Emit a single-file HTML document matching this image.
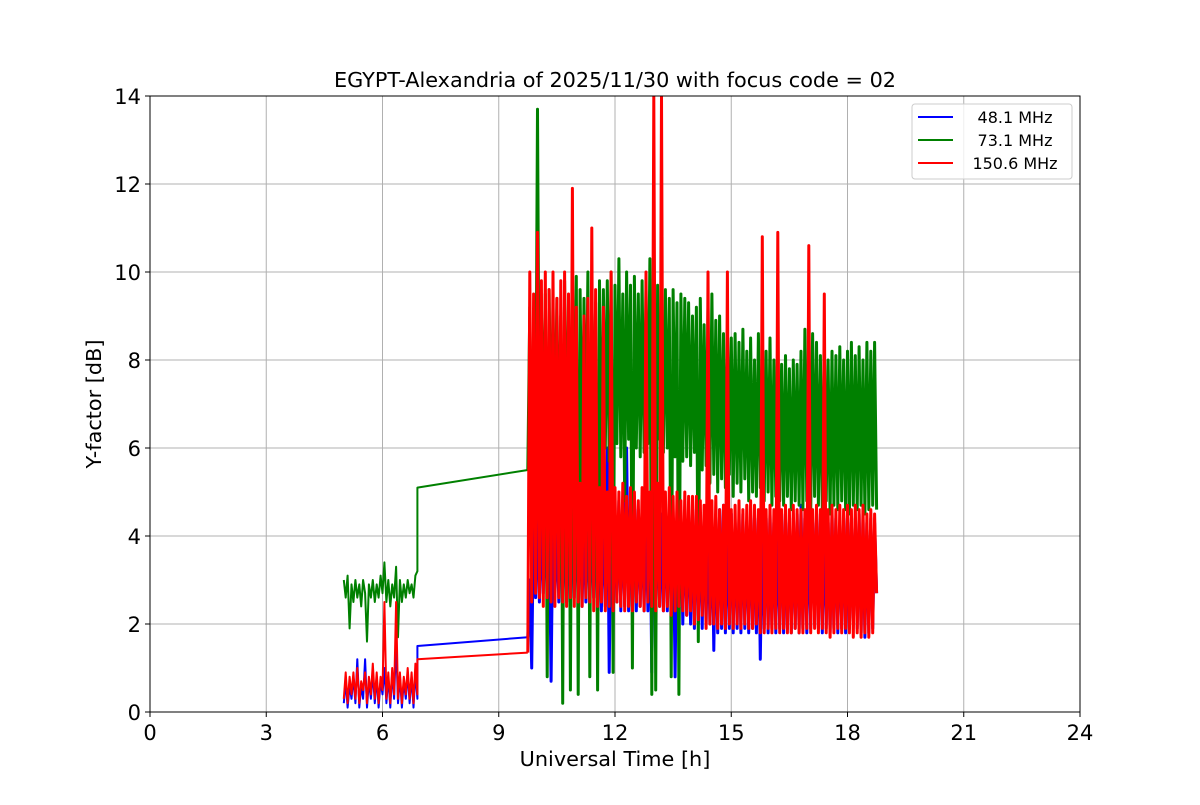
<!DOCTYPE html>
<html><head><meta charset="utf-8"><style>
body{margin:0;background:#fff;}
svg text{font-family:"DejaVu Sans","Liberation Sans",sans-serif;fill:#000;}
</style></head><body>
<svg id="chart" width="1200" height="800" viewBox="0 0 1200 800" xmlns="http://www.w3.org/2000/svg">
<rect width="1200" height="800" fill="#fff"/>
<g id="grid"></g><g id="series"></g><g id="axes"></g>
<text x="615" y="87" font-size="20.8" text-anchor="middle">EGYPT-Alexandria of 2025/11/30 with focus code = 02</text>
<text x="615" y="766" font-size="20.8" text-anchor="middle">Universal Time [h]</text>
<text transform="translate(101,404) rotate(-90)" font-size="20.8" text-anchor="middle">Y-factor [dB]</text>
<g>
<rect x="912" y="104" width="160" height="75" rx="3" fill="#fff" fill-opacity="0.8" stroke="#ccc"/>
<line x1="918" y1="117" x2="953" y2="117" stroke="blue" stroke-width="2"/>
<text x="1015" y="123" font-size="16" text-anchor="middle">48.1 MHz</text>
<line x1="918" y1="140" x2="953" y2="140" stroke="green" stroke-width="2"/>
<text x="1015" y="146" font-size="16" text-anchor="middle">73.1 MHz</text>
<line x1="918" y1="163" x2="953" y2="163" stroke="red" stroke-width="2"/>
<text x="1015" y="169" font-size="16" text-anchor="middle">150.6 MHz</text>
</g>
</svg>
<script>
const xTicks=[0,3,6,9,12,15,18,21,24];
const yTicks=[0,2,4,6,8,10,12,14];
const timesEarly=[5.00,5.05,5.10,5.15,5.20,5.25,5.30,5.35,5.40,5.45,5.50,5.55,5.60,5.65,5.70,5.75,5.80,5.85,5.90,5.95,6.00,6.05,6.10,6.15,6.20,6.25,6.30,6.35,6.40,6.45,6.50,6.55,6.60,6.65,6.70,6.75,6.80,6.85,6.90];
const gapTimes=[6.9,9.75];
const denseStart=9.8, denseStep=0.05;
const blueEarly=[0.2,0.7,0.1,0.6,0.3,0.8,0.2,1.2,0.1,0.6,0.3,1.2,0.1,0.7,0.3,0.9,0.2,0.8,0.1,0.7,0.4,1.0,0.2,0.8,0.1,0.9,0.3,1.6,0.2,0.8,0.1,0.7,0.3,0.9,0.2,0.8,0.1,0.9,0.3];
const blueGap=[1.5,1.7];
const blueDense=[
3.0,1.0,4.5,2.6,4.8,2.5,4.4,2.7,4.6,2.5,
4.5,0.7,4.7,2.6,4.4,2.5,4.8,2.4,4.6,2.5,
4.5,2.4,4.7,2.6,4.4,2.5,4.8,2.4,4.6,2.5,
4.7,2.4,4.5,2.6,4.6,2.5,4.4,2.3,4.7,2.4,
6.0,0.9,4.7,2.3,4.5,2.5,4.8,2.3,4.6,2.4,
6.0,2.3,4.7,2.4,4.9,2.3,4.6,2.4,4.5,2.3,
4.6,2.3,4.7,0.9,4.9,2.2,4.6,2.4,4.5,2.3,
4.6,2.3,4.7,2.2,4.4,0.8,4.6,2.1,4.5,2.0,
4.6,2.2,4.4,2.0,4.5,1.9,4.6,2.0,4.4,1.9,
4.5,2.0,4.3,2.0,4.5,1.4,4.4,1.8,4.6,1.9,
4.7,1.8,4.4,1.9,4.5,1.8,4.3,1.9,4.4,1.8,
4.5,1.9,4.3,1.8,4.4,1.9,4.5,1.8,4.4,1.2,
4.3,1.9,4.4,1.8,4.5,1.9,4.3,1.8,4.4,1.9,
4.5,1.8,4.4,1.9,4.3,1.8,4.4,1.9,4.5,1.8,
4.7,1.9,4.4,1.8,4.5,1.9,4.3,2.4,4.4,1.9,
4.5,1.8,4.4,1.9,4.3,1.8,4.5,1.9,4.4,1.8,
4.3,1.9,4.4,1.8,4.5,1.9,4.3,2.4,4.4,1.9,
4.5,1.8,4.4,1.7,4.3,1.8,4.4,1.9,4.3,2.7];
const greenEarly=[3.0,2.6,3.1,1.9,2.9,2.5,3.0,2.6,2.9,2.4,3.0,2.7,1.6,2.9,2.6,3.0,2.5,2.9,2.6,3.1,2.7,3.4,2.5,3.0,2.4,2.9,2.6,3.3,1.7,3.0,2.5,2.9,2.6,3.0,2.7,2.9,2.6,3.1,3.2];
const greenGap=[5.1,5.5];
const greenDense=[
9.2,3.0,9.0,5.5,13.7,5.6,9.3,6.0,9.5,0.8,
9.6,5.8,9.2,6.2,9.4,5.5,9.0,0.2,9.8,5.5,
9.3,0.5,9.5,6.0,9.9,0.4,9.6,5.2,9.4,5.8,
10.0,0.8,9.5,5.6,9.3,0.5,9.8,4.5,9.6,6.0,
9.8,5.7,10.0,0.9,9.7,6.1,10.3,5.8,9.5,4.8,
10.0,6.2,9.7,1.0,9.9,6.0,9.5,5.8,9.8,5.9,
9.6,6.1,10.3,0.4,10.0,0.5,9.7,6.2,9.9,5.9,
9.6,6.0,9.4,0.8,9.6,5.8,9.3,0.4,9.5,5.7,
9.4,5.8,9.3,5.6,9.0,5.9,9.2,1.6,9.4,5.5,
8.8,5.6,9.2,5.2,9.5,5.4,8.9,5.0,9.0,5.3,
8.6,5.1,8.7,5.4,8.5,4.9,8.6,5.2,8.4,5.0,
8.7,5.3,8.2,4.8,8.5,5.0,8.0,4.9,8.6,5.1,
8.4,4.8,8.2,5.0,8.5,4.7,8.0,4.9,8.3,4.8,
7.9,4.7,8.1,4.9,7.8,4.6,8.0,4.8,7.9,4.7,
8.2,4.6,8.7,4.8,8.9,4.5,8.6,4.9,8.4,4.7,
8.1,4.6,8.3,4.8,8.0,4.5,8.2,4.7,8.1,4.6,
8.3,4.8,8.0,4.6,8.2,4.5,8.4,4.7,8.1,4.6,
8.3,4.7,8.0,4.5,8.4,4.6,8.2,4.7,8.4,4.6];
const redEarly=[0.3,0.9,0.2,0.8,0.4,0.9,0.3,1.0,0.2,0.7,0.5,0.9,0.2,0.8,0.4,1.1,0.3,0.9,0.2,0.8,0.5,2.5,0.3,0.9,0.2,1.0,0.4,2.5,0.3,0.9,0.2,0.8,0.4,1.0,0.3,0.9,0.2,1.1,0.4];
const redGap=[1.2,1.35];
const redDense=[
10.0,2.5,9.5,2.7,10.9,2.6,9.8,2.4,10.0,2.6,
9.6,2.5,10.0,2.4,9.4,2.6,9.8,2.5,10.0,2.4,
9.5,2.6,11.9,2.4,9.2,2.5,5.2,2.4,9.0,2.6,
9.4,2.5,11.0,2.3,9.6,2.4,5.1,2.5,9.2,2.3,
5.0,2.4,10.0,2.3,5.1,2.5,5.0,2.4,5.2,2.3,
4.9,2.4,5.1,2.3,5.0,2.5,4.8,2.4,5.1,2.3,
10.0,2.5,5.0,2.4,14.0,2.3,5.2,2.4,14.0,2.3,
5.0,2.4,5.1,2.2,4.9,2.3,5.0,2.4,4.8,2.3,
5.0,2.2,4.9,2.3,4.9,2.0,4.9,2.1,4.8,2.2,
4.7,1.9,10.0,2.0,4.8,2.0,4.9,1.9,4.6,2.0,
4.7,1.9,10.0,2.0,4.6,1.9,4.7,2.0,4.8,1.9,
4.6,2.0,4.7,1.9,4.8,1.9,4.7,2.0,4.6,1.8,
10.8,1.8,4.6,1.9,4.7,1.8,4.6,1.9,10.9,1.8,
4.6,1.9,4.7,1.8,4.6,1.8,4.7,1.9,4.6,1.8,
4.6,1.8,4.6,1.9,10.6,1.8,4.6,1.9,4.7,1.8,
4.6,1.9,9.5,1.8,4.6,1.7,4.7,1.8,4.6,1.9,
4.7,1.8,4.6,1.9,4.7,1.8,4.6,1.7,4.7,1.8,
4.6,1.7,4.7,1.8,4.5,1.7,4.6,1.8,4.5,2.7];

const X0=150,X1=1080,Y0=712,Y1=96;
const xs=t=>X0+(t-0)/(24-0)*(X1-X0);
const ys=v=>Y0-(Math.min(v,14.3))/(14)*(Y0-Y1);
const NS='http://www.w3.org/2000/svg';
const grid=document.getElementById('grid'),axes=document.getElementById('axes'),ser=document.getElementById('series');
function mk(tag,attrs,parent){const e=document.createElementNS(NS,tag);for(const k in attrs)e.setAttribute(k,attrs[k]);parent.appendChild(e);return e;}
xTicks.forEach(t=>{
  const gl=mk('line',{x1:xs(t),x2:xs(t),y1:Y1,y2:Y0,stroke:'#b0b0b0','stroke-width':1},grid);
  
  
  mk('line',{x1:xs(t),x2:xs(t),y1:Y0,y2:Y0+5,stroke:'#000','stroke-width':1},axes);
  const tx=mk('text',{x:xs(t),y:Y0+28,'font-size':21,'text-anchor':'middle'},axes);
  tx.textContent=t;
  
  
});
yTicks.forEach(v=>{
  const gl=mk('line',{x1:X0,x2:X1,y1:ys(v),y2:ys(v),stroke:'#b0b0b0','stroke-width':1},grid);
  
  
  mk('line',{x1:X0-5,x2:X0,y1:ys(v),y2:ys(v),stroke:'#000','stroke-width':1},axes);
  const tx=mk('text',{x:X0-9,y:ys(v)+8,'font-size':21,'text-anchor':'end'},axes);
  tx.textContent=v;
  
  
});
const frame=mk('rect',{x:X0,y:Y1,width:X1-X0,height:Y0-Y1,fill:'none',stroke:'#000','stroke-width':1},axes);


function pathD(pts){return pts.map((p,i)=>(i?'L':'M')+xs(p[0]).toFixed(1)+','+ys(p[1]).toFixed(1)).join('');}
function series(early,gap,dense,color,name){
  const a=[],b=[];
  for(let i=0;i<Math.min(timesEarly.length,early.length);i++)a.push([timesEarly[i],early[i]]);
  for(let i=0;i<gap.length;i++)a.push([gapTimes[i],gap[i]]);
  b.push([gapTimes[gapTimes.length-1],gap[gap.length-1]]);
  for(let i=0;i<dense.length;i++)b.push([denseStart+i*denseStep,dense[i]]);
  const p1=mk('path',{d:pathD(a),fill:'none',stroke:color,'stroke-width':2,'stroke-linejoin':'round'},ser);
  
  
  const p2=mk('path',{d:pathD(b),fill:'none',stroke:color,'stroke-width':3,'stroke-linejoin':'round'},ser);
  
  
}
ser.setAttribute('clip-path','url(#clip)');
const defs=mk('defs',{},document.getElementById('chart'));
const cp=mk('clipPath',{id:'clip'},defs);
mk('rect',{x:X0,y:Y1,width:X1-X0,height:Y0-Y1},cp);
series(blueEarly,blueGap,blueDense,'blue','series-48-1-mhz');
series(greenEarly,greenGap,greenDense,'green','series-73-1-mhz');
series(redEarly,redGap,redDense,'red','series-150-6-mhz');
</script>
</body></html>
